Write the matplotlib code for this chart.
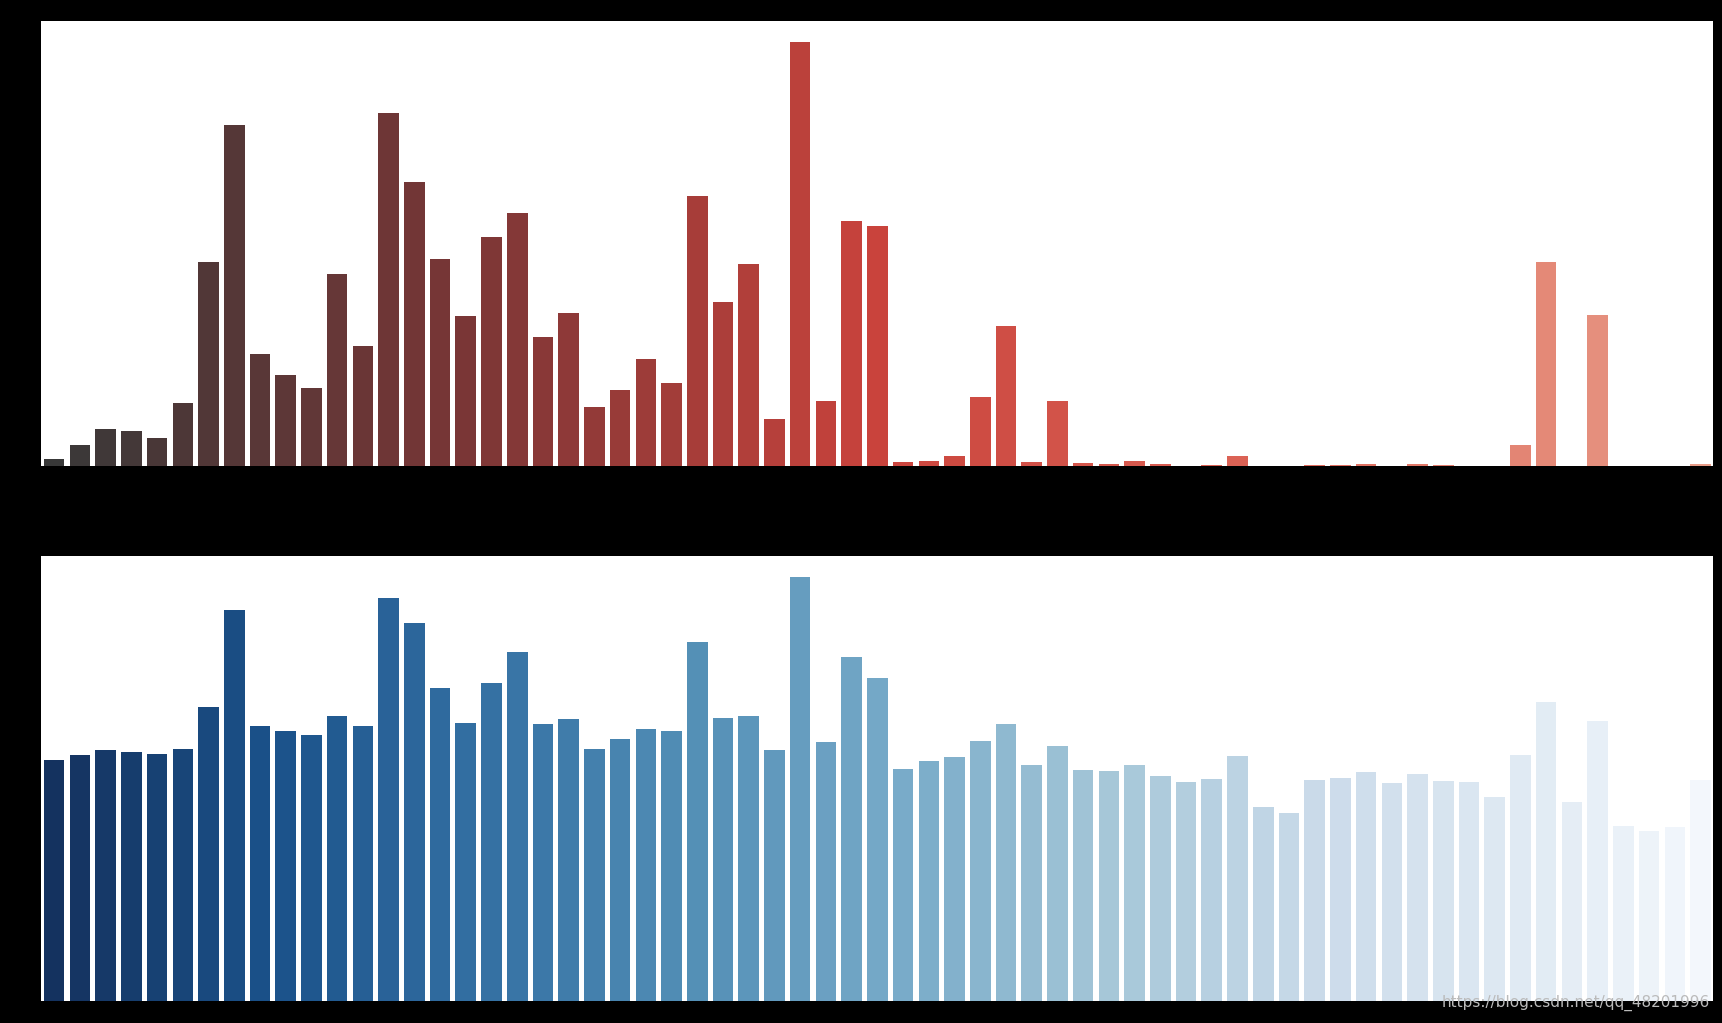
import colorsys
import numpy as np
import matplotlib.pyplot as plt
from matplotlib.colors import LinearSegmentedColormap

top_values = [7, 20, 34, 32, 26, 58, 186, 311, 102, 83, 71, 175, 110, 322, 259, 189, 137, 209, 231, 118,
              140, 54, 70, 98, 76, 246, 150, 184, 43, 386, 60, 223, 219, 4, 5, 10, 63, 128, 4, 60,
              3, 2, 5, 2, 0.5, 1, 10, 0, 0, 1, 1, 2, 0.5, 2, 1, 0.5, 0.5, 20, 186, 0.5,
              138, 0, 0, 0, 2]
bottom_values = [219, 224, 228, 227, 225, 229, 268, 356, 250, 246, 242, 259, 250, 367, 344, 285, 253, 289, 318, 252,
                 257, 229, 238, 248, 246, 327, 258, 259, 228, 386, 236, 313, 294, 211, 218, 222, 237, 252, 215, 232,
                 210, 209, 215, 205, 199, 202, 223, 177, 171, 201, 203, 208, 198, 207, 200, 199, 186, 224, 272, 181,
                 255, 159, 155, 158, 201]

n = len(top_values)
x = np.arange(n)


def desaturate(c, prop=0.75):
    h, l, s = colorsys.rgb_to_hls(*c[:3])
    return colorsys.hls_to_rgb(h, l, s * prop)


reds = LinearSegmentedColormap.from_list('reds_d', ['#383838', '#7a3636', '#c9433c', '#dd6658', '#e89c88'])
top_colors = reds(np.linspace(0, 1, n))
bottom_colors = [desaturate(c) for c in plt.cm.Blues_r(np.linspace(0.0, 0.97, n))]

fig = plt.figure(figsize=(17.22, 10.23), dpi=100, facecolor='black')
ax1 = fig.add_axes([0.024, 0.544, 0.971, 0.435])
ax2 = fig.add_axes([0.024, 0.0215, 0.971, 0.435])

for ax, vals, cols in [(ax1, top_values, top_colors), (ax2, bottom_values, bottom_colors)]:
    ax.bar(x, vals, width=0.8, color=cols)
    ax.set_xlim(-0.5, n - 0.5)
    ax.set_ylim(0, max(vals) * 405 / 386)
    ax.set_facecolor('white')
    ax.set_xticks([])
    ax.set_yticks([])
    for s in ax.spines.values():
        s.set_visible(False)

fig.text(0.993, 0.012, 'https://blog.csdn.net/qq_48201996', color='#bbbbbb', fontsize=11, ha='right', va='bottom')
fig.savefig('out.png', facecolor='black')
